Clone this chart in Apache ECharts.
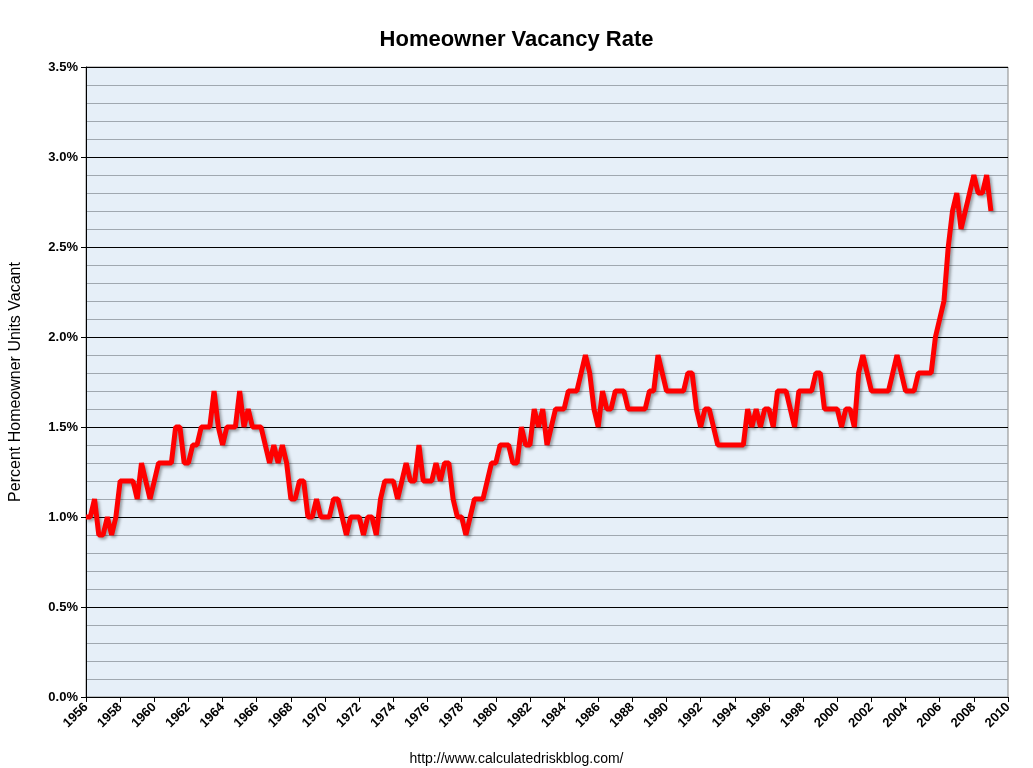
<!DOCTYPE html>
<html><head><meta charset="utf-8">
<script src="https://cdn.jsdelivr.net/npm/echarts@6/dist/echarts.min.js"></script>
<style>html,body{margin:0;padding:0;background:#fff}#c{width:1033px;height:768px}</style>
</head><body><div id="c"></div>
<script>
const startYear = 1956;
const rates = [
1.0,1.0,1.1,0.9, 0.9,1.0,0.9,1.0, 1.2,1.2,1.2,1.2, 1.1,1.3,1.2,1.1,
1.2,1.3,1.3,1.3, 1.3,1.5,1.5,1.3, 1.3,1.4,1.4,1.5, 1.5,1.5,1.7,1.5,
1.4,1.5,1.5,1.5, 1.7,1.5,1.6,1.5, 1.5,1.5,1.4,1.3, 1.4,1.3,1.4,1.3,
1.1,1.1,1.2,1.2, 1.0,1.0,1.1,1.0, 1.0,1.0,1.1,1.1, 1.0,0.9,1.0,1.0,
1.0,0.9,1.0,1.0, 0.9,1.1,1.2,1.2, 1.2,1.1,1.2,1.3, 1.2,1.2,1.4,1.2,
1.2,1.2,1.3,1.2, 1.3,1.3,1.1,1.0, 1.0,0.9,1.0,1.1, 1.1,1.1,1.2,1.3,
1.3,1.4,1.4,1.4, 1.3,1.3,1.5,1.4, 1.4,1.6,1.5,1.6, 1.4,1.5,1.6,1.6,
1.6,1.7,1.7,1.7, 1.8,1.9,1.8,1.6, 1.5,1.7,1.6,1.6, 1.7,1.7,1.7,1.6,
1.6,1.6,1.6,1.6, 1.7,1.7,1.9,1.8, 1.7,1.7,1.7,1.7, 1.7,1.8,1.8,1.6,
1.5,1.6,1.6,1.5, 1.4,1.4,1.4,1.4, 1.4,1.4,1.4,1.6, 1.5,1.6,1.5,1.6,
1.6,1.5,1.7,1.7, 1.7,1.6,1.5,1.7, 1.7,1.7,1.7,1.8, 1.8,1.6,1.6,1.6,
1.6,1.5,1.6,1.6, 1.5,1.8,1.9,1.8, 1.7,1.7,1.7,1.7, 1.7,1.8,1.9,1.8,
1.7,1.7,1.7,1.8, 1.8,1.8,1.8,2.0, 2.1,2.2,2.5,2.7, 2.8,2.6,2.7,2.8,
2.9,2.8,2.8,2.9, 2.7
];
const yTicks = [0,0.5,1.0,1.5,2.0,2.5,3.0,3.5];
const data = rates.map((v,i)=>[startYear + i*0.25, v]);
const chart = echarts.init(document.getElementById('c'));
chart.setOption({
  animation:false,
  backgroundColor:'#fff',
  title:[{text:'Homeowner Vacancy Rate',left:'center',top:24,textStyle:{fontFamily:'Arial, Liberation Sans',fontSize:22,fontWeight:'bold',color:'#000'}},
         {text:'http://www.calculatedriskblog.com/',left:'center',top:747,textStyle:{fontFamily:'Arial, Liberation Sans',fontSize:14,fontWeight:'normal',color:'#000'}}],
  grid:{left:86,right:25,top:67,bottom:71,containLabel:false,outerBoundsMode:'none',show:true,backgroundColor:'#e6eff8',borderColor:'#888',borderWidth:1},
  xAxis:{type:'value',min:1956,max:2010,interval:2,
    axisLine:{show:true,onZero:false,lineStyle:{color:'#000'}},
    axisTick:{show:true,length:5,lineStyle:{color:'#000'}},
    splitLine:{show:false},
    axisLabel:{rotate:45,fontFamily:'Arial, Liberation Sans',fontWeight:'bold',fontSize:13,color:'#000',margin:8,formatter:v=>String(v)}},
  yAxis:{type:'value',min:0,max:3.5,interval:0.5,
    name:'Percent Homeowner Units Vacant',nameLocation:'middle',nameGap:62,
    nameTextStyle:{fontFamily:'Arial, Liberation Sans',fontSize:16,color:'#000'},
    axisLine:{show:true,lineStyle:{color:'#000'}},
    axisTick:{show:true,length:5,lineStyle:{color:'#000'}},
    axisLabel:{fontFamily:'Arial, Liberation Sans',fontWeight:'bold',fontSize:13,color:'#000',
      formatter:v=>{const t=yTicks.find(x=>Math.abs(x-v)<1e-6);return (t!==undefined?t:v).toFixed(1)+'%';}},
    splitLine:{show:true,lineStyle:{color:'#000',width:1}},
    minorTick:{show:false,splitNumber:5},
    minorSplitLine:{show:true,lineStyle:{color:'#a0a8b0',width:1}}},
  series:[{type:'line',data:data,showSymbol:false,
    lineStyle:{color:'#ff0000',width:5,shadowColor:'rgba(0,0,0,0.35)',shadowBlur:3,shadowOffsetX:2,shadowOffsetY:2}}]
});
</script></body></html>
